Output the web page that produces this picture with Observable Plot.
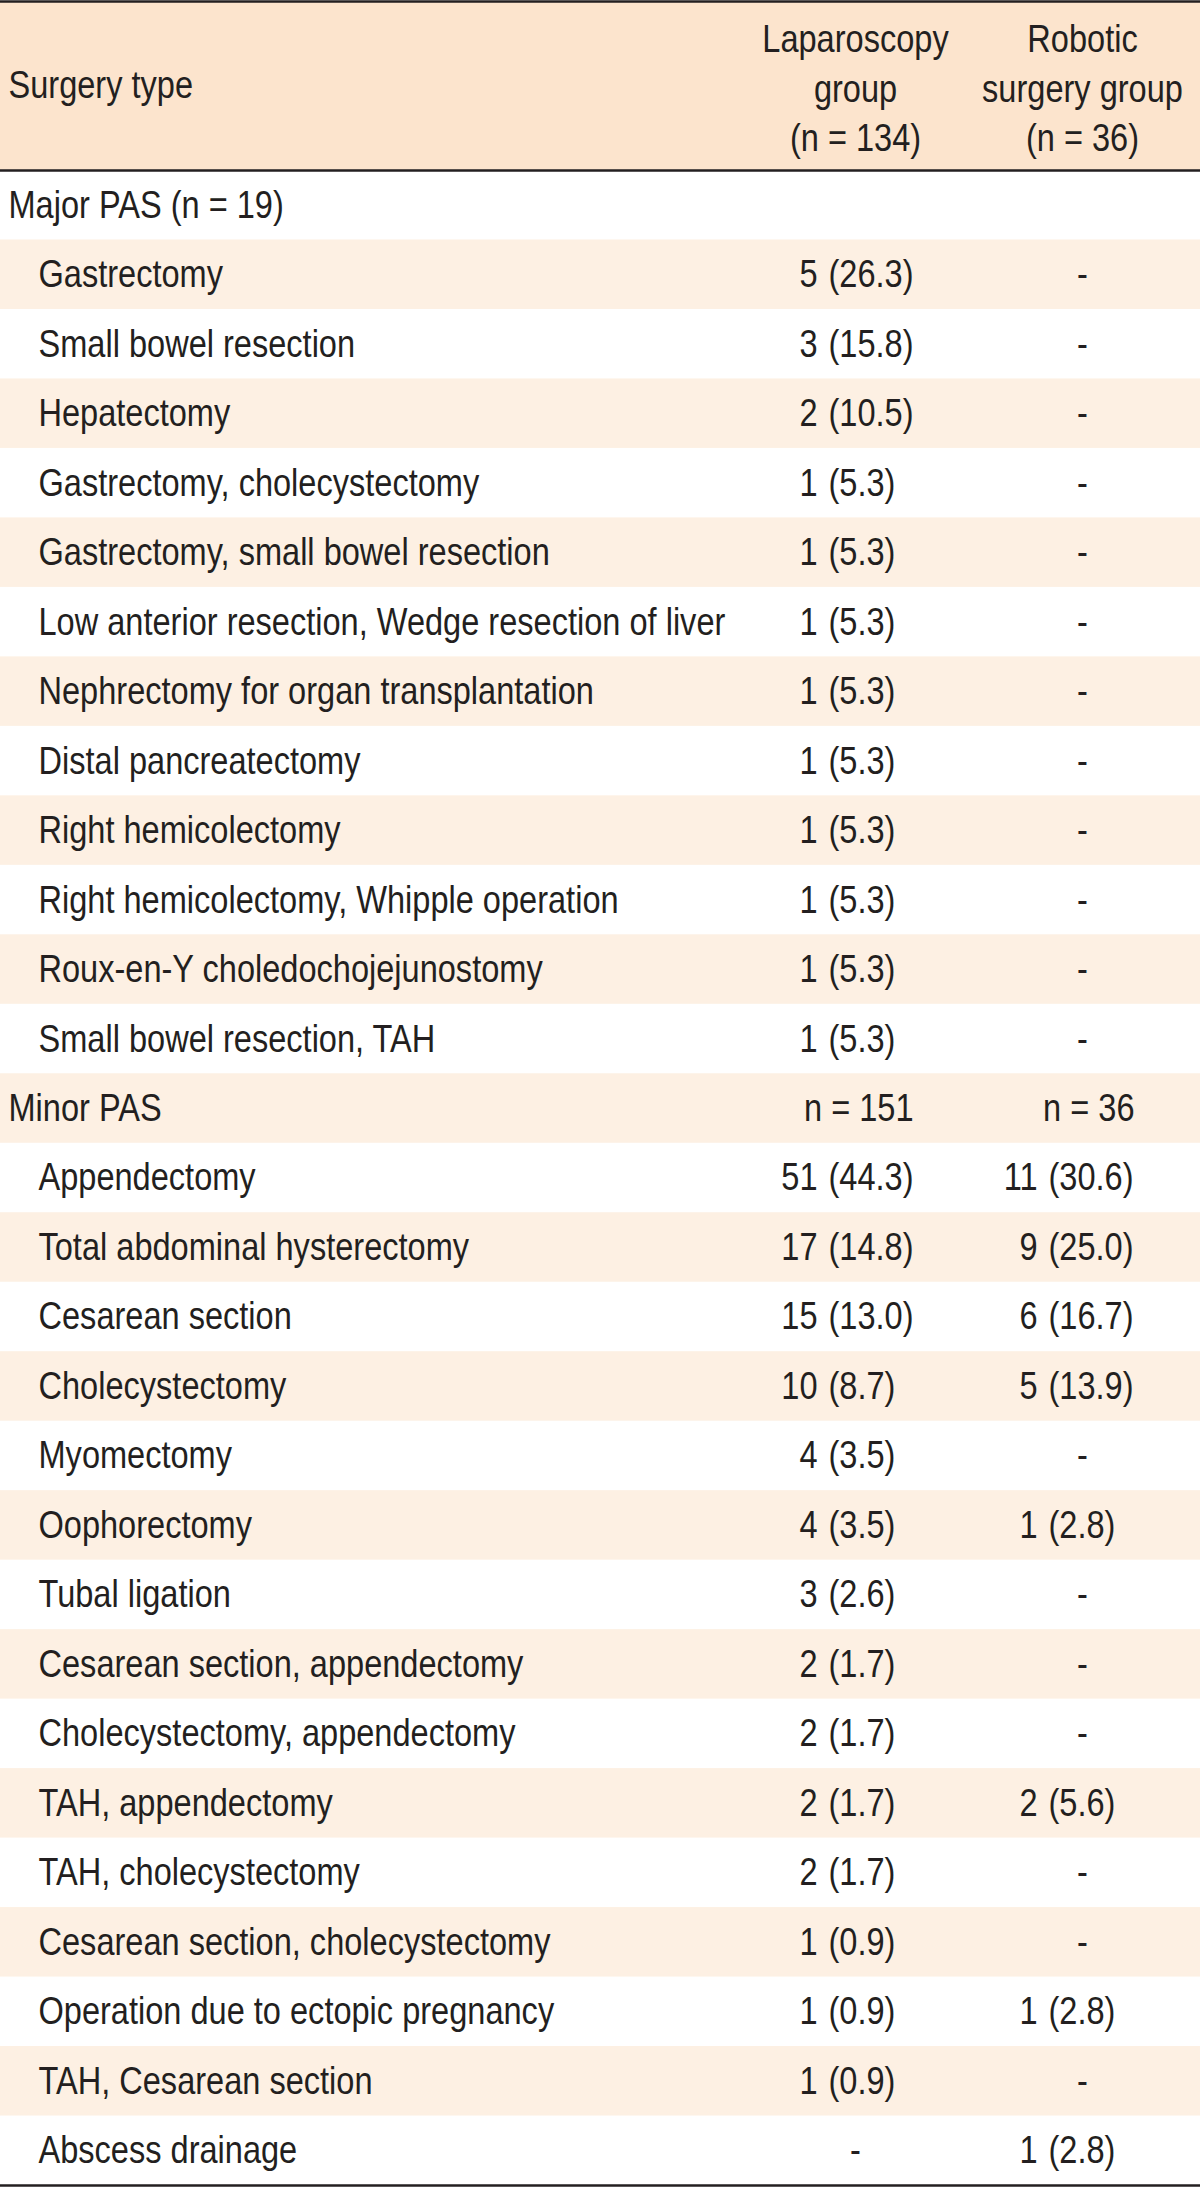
<!DOCTYPE html>
<html><head><meta charset="utf-8">
<script src="https://cdn.jsdelivr.net/npm/d3@7"></script>
<script src="https://cdn.jsdelivr.net/npm/@observablehq/plot@0.6"></script>
<style>
html,body{margin:0;padding:0;background:#fff;}
</style></head><body><div id="chart"></div>
<script>
// ---- data ----
const headerSurgery = "Surgery type";
const headerLap = "Laparoscopy\ngroup\n(n = 134)";
const headerRob = "Robotic\nsurgery group\n(n = 36)";

const groupLabels = ["Major PAS (n = 19)", "Minor PAS"];
const groupLapN = [null, "n = 151"];
const groupRobN = [null, "n = 36"];

const majorSurgeries = [
  "Gastrectomy", "Small bowel resection", "Hepatectomy", "Gastrectomy, cholecystectomy",
  "Gastrectomy, small bowel resection", "Low anterior resection, Wedge resection of liver",
  "Nephrectomy for organ transplantation", "Distal pancreatectomy", "Right hemicolectomy",
  "Right hemicolectomy, Whipple operation", "Roux-en-Y choledochojejunostomy", "Small bowel resection, TAH"
];
const majorLapCount = [5, 3, 2, 1, 1, 1, 1, 1, 1, 1, 1, 1];
const majorLapPct = [26.3, 15.8, 10.5, 5.3, 5.3, 5.3, 5.3, 5.3, 5.3, 5.3, 5.3, 5.3];
const majorRobCount = [null, null, null, null, null, null, null, null, null, null, null, null];
const majorRobPct = [null, null, null, null, null, null, null, null, null, null, null, null];

const minorSurgeries = [
  "Appendectomy", "Total abdominal hysterectomy", "Cesarean section", "Cholecystectomy",
  "Myomectomy", "Oophorectomy", "Tubal ligation", "Cesarean section, appendectomy",
  "Cholecystectomy, appendectomy", "TAH, appendectomy", "TAH, cholecystectomy",
  "Cesarean section, cholecystectomy", "Operation due to ectopic pregnancy",
  "TAH, Cesarean section", "Abscess drainage"
];
const minorLapCount = [51, 17, 15, 10, 4, 4, 3, 2, 2, 2, 2, 1, 1, 1, null];
const minorLapPct = [44.3, 14.8, 13.0, 8.7, 3.5, 3.5, 2.6, 1.7, 1.7, 1.7, 1.7, 0.9, 0.9, 0.9, null];
const minorRobCount = [11, 9, 6, 5, null, 1, null, null, null, 2, null, null, 1, null, 1];
const minorRobPct = [30.6, 25.0, 16.7, 13.9, null, 2.8, null, null, null, 5.6, null, null, 2.8, null, 2.8];

// ---- table rows built from the arrays ----
const rows = [];
function addGroup(gi, names, lc, lp, rc, rp) {
  rows.push({kind: "group", label: groupLabels[gi], lapN: groupLapN[gi], robN: groupRobN[gi]});
  names.forEach((n, k) => rows.push({kind: "item", label: n, lapCount: lc[k], lapPct: lp[k], robCount: rc[k], robPct: rp[k]}));
}
addGroup(0, majorSurgeries, majorLapCount, majorLapPct, majorRobCount, majorRobPct);
addGroup(1, minorSurgeries, minorLapCount, minorLapPct, minorRobCount, minorRobPct);
rows.forEach((r, i) => r.i = i);
const N = rows.length;

// ---- layout ----
const W = 1200, H = 2189;
const topPx = 1, rowsTop = 170, rowsBottom = 2185;
const rowH = (rowsBottom - rowsTop) / N;
const hdrU = (rowsTop - topPx) / rowH;
const xGroup = 8, xItem = 38;
const lapCenter = 855, robCenter = 1082;
const lapParen = 828, robParen = 1048, gap = 11;
const lapRight = 913, robRight = 1134;
const fs = 39;
const condense = 0.835;
const ink = "#231f20";
const headerFill = "#fce4cd";
const stripeFill = "#fdf0e3";
const font = "'Liberation Sans', Arial, Helvetica, sans-serif";

const items = rows.filter(r => r.kind === "item");
const groups = rows.filter(r => r.kind === "group");
const mid = d => d.i + 0.5;
const pct = v => "(" + v.toFixed(1) + ")";

const chart = Plot.plot({
  width: W, height: H,
  marginTop: 0, marginBottom: 0, marginLeft: 0, marginRight: 0,
  x: {type: "identity", axis: null},
  y: {domain: [-hdrU, N], range: [topPx, rowsBottom], axis: null},
  style: {fontFamily: font, background: "#fff", color: ink},
  marks: [
    // header background
    Plot.rect([0], {x1: 0, x2: W, y1: -hdrU, y2: 0, fill: headerFill}),
    // zebra stripes
    Plot.rect(rows.filter(r => r.i % 2 === 1), {x1: 0, x2: W, y1: d => d.i, y2: d => d.i + 1, fill: stripeFill}),
    // rules
    Plot.ruleY([-hdrU, 0, N], {stroke: ink, strokeWidth: 2.5}),
    // header text
    Plot.text([headerSurgery], {x: xGroup, y: -hdrU / 2, text: d => d, textAnchor: "start", fontSize: fs, fill: ink}),
    Plot.text([headerLap], {x: lapCenter, y: -hdrU / 2, text: d => d, textAnchor: "middle", lineAnchor: "middle", lineHeight: 49.5 / fs, fontSize: fs, fill: ink}),
    Plot.text([headerRob], {x: robCenter, y: -hdrU / 2, text: d => d, textAnchor: "middle", lineAnchor: "middle", lineHeight: 49.5 / fs, fontSize: fs, fill: ink}),
    // row labels
    Plot.text(groups, {x: xGroup, y: mid, text: "label", textAnchor: "start", fontSize: fs, fill: ink}),
    Plot.text(items, {x: xItem, y: mid, text: "label", textAnchor: "start", fontSize: fs, fill: ink}),
    // group n
    Plot.text(groups.filter(d => d.lapN), {x: lapRight, y: mid, text: "lapN", textAnchor: "end", fontSize: fs, fill: ink}),
    Plot.text(groups.filter(d => d.robN), {x: robRight, y: mid, text: "robN", textAnchor: "end", fontSize: fs, fill: ink}),
    // laparoscopy values
    Plot.text(items.filter(d => d.lapCount != null), {x: lapParen - gap, y: mid, text: d => String(d.lapCount), textAnchor: "end", fontSize: fs, fill: ink}),
    Plot.text(items.filter(d => d.lapCount != null), {x: lapParen, y: mid, text: d => pct(d.lapPct), textAnchor: "start", fontSize: fs, fill: ink}),
    Plot.text(items.filter(d => d.lapCount == null), {x: lapCenter, y: mid, text: () => "-", textAnchor: "middle", fontSize: fs, fill: ink}),
    // robotic values
    Plot.text(items.filter(d => d.robCount != null), {x: robParen - gap, y: mid, text: d => String(d.robCount), textAnchor: "end", fontSize: fs, fill: ink}),
    Plot.text(items.filter(d => d.robCount != null), {x: robParen, y: mid, text: d => pct(d.robPct), textAnchor: "start", fontSize: fs, fill: ink}),
    Plot.text(items.filter(d => d.robCount == null), {x: robCenter, y: mid, text: () => "-", textAnchor: "middle", fontSize: fs, fill: ink})
  ]
});

// condensed typeface look: compress each text horizontally about its own anchor
chart.querySelectorAll("text").forEach(t => {
  let tr = t.getAttribute("transform") || "";
  const x = t.getAttribute("x");
  if (x != null && isFinite(+x) && +x !== 0) {
    tr = `translate(${+x},0) ` + tr;
    t.setAttribute("x", 0);
  }
  t.setAttribute("transform", (tr + ` scale(${condense},1)`).trim());
});
document.getElementById("chart").appendChild(chart);
</script>
</body></html>
